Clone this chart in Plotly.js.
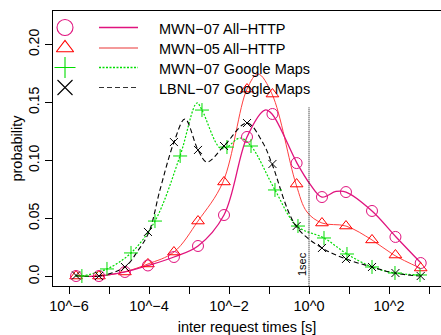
<!DOCTYPE html>
<html>
<head>
<meta charset="utf-8">
<script src="https://cdn.plot.ly/plotly-3.0.1.min.js"></script>
<style>html,body{margin:0;padding:0;background:#fff;}#chart{width:441px;height:335px;}</style>
</head>
<body>
<div id="chart"></div>
<script>
// ---- data (inter request time in seconds, probability) ----
var seriesNames = ["MWN\u221207 All\u2212HTTP", "MWN\u221205 All\u2212HTTP", "MWN\u221207 Google Maps", "LBNL\u221207 Google Maps"];

// marker positions
var binsA = [1.5e-6, 5.6e-6, 2.5e-5, 9.4e-5, 4.2e-4, 1.68e-3, 7.5e-3, 0.0282, 0.122, 0.49, 2.11, 8.4, 37.6, 145, 620];
var binsB = [2.1e-6, 8.9e-6, 3.55e-5, 1.41e-4, 6.0e-4, 2.11e-3, 8.9e-3, 0.0355, 0.141, 0.53, 2.37, 8.9, 37.6, 141, 596];
var mwn07All = [0.0004, 0.0004, 0.0039, 0.0095, 0.0168, 0.0263, 0.0530, 0.1203, 0.1401, 0.0978, 0.0685, 0.0728, 0.0565, 0.0341, 0.0116];
var mwn05All = [0.0004, 0.0004, 0.0039, 0.0108, 0.0211, 0.0478, 0.0815, 0.1616, 0.1573, 0.0797, 0.0461, 0.0435, 0.0315, 0.0185, 0.0073];
var mwn07Gm  = [0.0004, 0.0065, 0.0203, 0.0478, 0.1039, 0.1435, 0.1116, 0.1125, 0.0746, 0.0435, 0.0332, 0.0194, 0.0082, 0.0030, 0.0013];
var lbnl07Gm = [0.0009, 0.0004, 0.0082, 0.0384, 0.1159, 0.1091, 0.1125, 0.1323, 0.0970, 0.0435, 0.0246, 0.0151, 0.0082, 0.0030, 0.0004];

// smoothed density curves
var curveMwn07AllX = [1.5e-6, 5.62e-6, 2.51e-5, 9.44e-5, 4.22e-4, 1.68e-3, 7.5e-3, 0.0282, 0.0794, 0.119, 0.501, 1.06, 2.11, 4.73, 8.41, 37.6, 150, 631];
var curveMwn07AllY = [0.0004, 0.0004, 0.0039, 0.0095, 0.0168, 0.0263, 0.0530, 0.1203, 0.1435, 0.1401, 0.0978, 0.0797, 0.0685, 0.0733, 0.0728, 0.0565, 0.0341, 0.0116];
var curveMwn05AllX = [1.5e-6, 5.62e-6, 2.37e-5, 9.44e-5, 4.22e-4, 1.68e-3, 7.08e-3, 0.0282, 0.0531, 0.119, 0.473, 0.891, 2.11, 8.41, 37.6, 133, 596];
var curveMwn05AllY = [0.0004, 0.0004, 0.0039, 0.0108, 0.0211, 0.0478, 0.0815, 0.1616, 0.1746, 0.1573, 0.0797, 0.0556, 0.0461, 0.0435, 0.0315, 0.0185, 0.0073];
var curveMwn07GmX = [2.11e-6, 8.91e-6, 3.55e-5, 1.41e-4, 5.96e-4, 1.58e-3, 2.11e-3, 5.96e-3, 8.91e-3, 0.0188, 0.0355, 0.141, 0.501, 2.37, 8.91, 37.6, 141, 596];
var curveMwn07GmY = [0.0004, 0.0065, 0.0203, 0.0478, 0.1039, 0.1496, 0.1435, 0.1108, 0.1116, 0.1194, 0.1125, 0.0746, 0.0435, 0.0332, 0.0194, 0.0082, 0.0030, 0.0013];
var curveLbnlX = [1.5e-6, 5.62e-6, 2.51e-5, 5.01e-5, 1.0e-4, 1.88e-4, 4.22e-4, 7.94e-4, 1.68e-3, 2.82e-3, 7.5e-3, 0.0282, 0.0708, 0.119, 0.473, 2.11, 8.41, 37.6, 133, 596];
var curveLbnlY = [0.0009, 0.0004, 0.0082, 0.0211, 0.0384, 0.0746, 0.1159, 0.1358, 0.1091, 0.0987, 0.1125, 0.1323, 0.1151, 0.0970, 0.0435, 0.0246, 0.0151, 0.0082, 0.0030, 0.0004];

// 1 second reference line
var secLineX = [1, 1];
var secLineY = [-0.02, 0.146];

// axis ticks
var xTickVals = [1e-6, 1e-5, 1e-4, 1e-3, 1e-2, 1e-1, 1, 10, 100, 1000];
var xTickText = ["10^\u22126", "", "10^\u22124", "", "10^\u22122", "", "10^0", "", "10^2", ""];
var yTickVals = [0, 0.05, 0.10, 0.15, 0.20];
var yTickText = ["0.0", "0.05", "0.10", "0.15", "0.20"];

// ---- styles ----
var colMag = "#e0137e", colRed = "#ff0000", colRedLine = "#ff4040", colGreen = "#00dd00", colBlack = "#000000";
var FONT = "Liberation Sans, Arial, Helvetica, sans-serif";

function curve(x, y, color, width, dash) {
  return {x: x, y: y, type: "scatter", mode: "lines", showlegend: false, hoverinfo: "skip",
          line: {color: color, width: width, dash: dash, shape: "spline", smoothing: 1.0}};
}
function marks(x, y, color, symbol, size) {
  return {x: x, y: y, type: "scatter", mode: "markers", showlegend: false, hoverinfo: "skip",
          marker: {symbol: symbol, size: size, color: color, line: {color: color, width: 1}}};
}

var traces = [
  curve(curveMwn05AllX, curveMwn05AllY, colRedLine, 1, "solid"),
  curve(curveMwn07AllX, curveMwn07AllY, colMag, 1.3, "solid"),
  curve(curveMwn07GmX, curveMwn07GmY, colGreen, 1.2, "2px,1.6px"),
  curve(curveLbnlX, curveLbnlY, colBlack, 1.1, "5px,3px"),
  marks(binsA, mwn05All, colRed, "triangle-up-open", 11),
  marks(binsA, mwn07All, colMag, "circle-open", 11),
  marks(binsB, mwn07Gm, colGreen, "cross-thin-open", 10),
  marks(binsA, lbnl07Gm, colBlack, "x-thin-open", 8),
  {x: secLineX, y: secLineY, type: "scatter", mode: "lines", showlegend: false, hoverinfo: "skip",
   line: {color: "#000", width: 1, dash: "1px,1px"}}
];

// ---- hand-built legend on a pixel overlay axis ----
var legRowY = [27.5, 48, 67.5, 87.5];
var legSymbols = ["circle-open", "triangle-up-open", "cross-thin-open", "x-thin-open"];
var legColors = [colMag, colRed, colGreen, colBlack];
var legLineColors = [colMag, "#f07878", colGreen, "#333333"];
var legDash = ["solid", "solid", "2px,1.5px", "5px,3px"];
var legLineW = [1.5, 1.7, 1.5, 1.1];
var shapes = [];
legSymbols.forEach(function (s, i) {
  traces.push({x: [65], y: [legRowY[i]], xaxis: "x2", yaxis: "y2", type: "scatter", mode: "markers",
    showlegend: false, hoverinfo: "skip",
    marker: {symbol: s, size: (i === 0 ? 16 : 15), color: legColors[i], line: {color: legColors[i], width: 1.1}}});
  shapes.push({type: "line", xref: "x2", yref: "y2", x0: 99, x1: 138, y0: legRowY[i], y1: legRowY[i],
    line: {color: legLineColors[i], width: legLineW[i], dash: legDash[i]}});
});

var annotations = seriesNames.map(function (n, i) {
  return {xref: "x2", yref: "y2", x: 157, y: legRowY[i] + 1, text: n, showarrow: false,
          xanchor: "left", yanchor: "middle", font: {family: FONT, size: 14.5, color: "#000"}};
});
annotations.push({xref: "x2", yref: "y2", x: 302, y: 264, text: "1sec", textangle: -90, showarrow: false,
  xanchor: "center", yanchor: "middle", font: {family: FONT, size: 11, color: "#000"}});

var layout = {
  width: 441, height: 335,
  margin: {l: 53, r: 0, t: 11, b: 49, pad: 0},
  paper_bgcolor: "#fff", plot_bgcolor: "#fff",
  font: {family: FONT, size: 14.5, color: "#000"},
  showlegend: false,
  xaxis: {type: "log", range: [-6.4, 3.3], showgrid: false, zeroline: false,
          showline: true, mirror: true, linecolor: "#000", linewidth: 1,
          ticks: "outside", ticklen: 7, tickwidth: 1, tickcolor: "#000",
          tickmode: "array", tickvals: xTickVals, ticktext: xTickText,
          tickfont: {family: FONT, size: 14.5, color: "#000"},
          title: {text: "inter request times [s]", font: {family: FONT, size: 14.5, color: "#000"}, standoff: 9}},
  yaxis: {range: [-0.0082, 0.2289], showgrid: false, zeroline: false,
          showline: true, mirror: false, linecolor: "#000", linewidth: 1,
          ticks: "outside", ticklen: 7, tickwidth: 1, tickcolor: "#000",
          tickmode: "array", tickvals: yTickVals, ticktext: yTickText, tickangle: -90,
          tickfont: {family: FONT, size: 14, color: "#000"},
          title: {text: "probability", font: {family: FONT, size: 14.5, color: "#000"}, standoff: 0}},
  xaxis2: {overlaying: "x", anchor: "y2", range: [53, 441], visible: false, fixedrange: true},
  yaxis2: {overlaying: "y", anchor: "x2", range: [286, 11], visible: false, fixedrange: true},
  shapes: shapes,
  annotations: annotations
};

Plotly.newPlot("chart", traces, layout, {staticPlot: true, displayModeBar: false});
</script>
</body>
</html>
